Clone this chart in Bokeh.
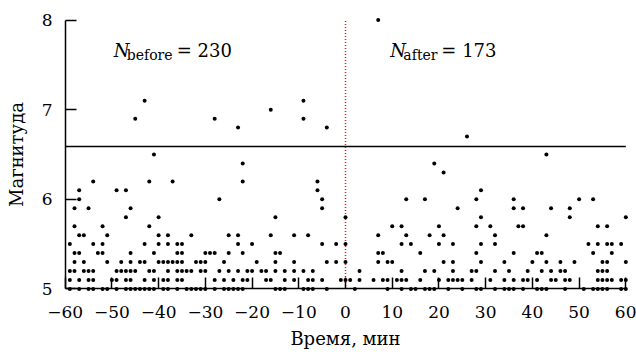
from bokeh.plotting import figure
from bokeh.models import Range1d, FixedTicker, Label, LinearAxis
from bokeh.embed import file_html
from bokeh.resources import INLINE

# ---- data: event times (minutes) for each magnitude row ----
t_50 = [-59, -57, -55, -54, -52, -51, -49, -47, -46, -45, -44, -43, -42, -41, -39, -38, -36, -34,
        -33, -32, -31, -30, -28, -26, -25, -24, -23, -22, -15, -14, -13, -9, -8, -7, -4,
        2, 9, 12, 14, 15, 17, 18, 19, 22, 25, 28, 29, 32, 34, 35, 36, 38, 41, 42, 43, 47,
        51, 53, 54, 55, 56, 59, 60]
t_51 = [-59, -57, -55, -54, -50, -49, -47, -46, -43, -41, -39, -38, -36, -35, -28, -26, -24,
        -22, -21, -17, -16, -13, -11, -8, -7, -5, -1, 0, 1, 3, 6, 8, 9, 11, 12, 13, 16,
        20, 22, 23, 24, 25, 27, 31, 34, 36, 38, 39, 41, 44, 45, 47, 48, 54, 55, 56, 57, 59, 60]
t_52 = [-59, -58, -56, -55, -54, -49, -48, -47, -46, -45, -42, -41, -38, -36, -35, -34, -33,
        -31, -30, -27, -25, -23, -21, -20, -18, -17, -15, -13, -11, -9, -7,
        3, 12, 17, 19, 23, 27, 28, 32, 35, 39, 42, 44, 46, 47, 54, 55, 56]
t_53 = [-58, -56, -51, -48, -46, -44, -43, -40, -39, -38, -37, -36, -35, -32, -31, -30, -26,
        -19, -15, -11, -4, -2, 0, 7, 9, 10, 21, 23, 29, 34, 40, 43, 46, 49, 55, 56, 60]
t_54 = [-58, -57, -53, -52, -46, -41, -36, -35, -30, -29, -28, -25, -22, -15, -14,
        7, 8, 16, 28, 36, 41, 42, 53, 57]
t_55 = [-59, -54, -52, -43, -40, -38, -36, -35, -23, -20, -5, -2, 0, 12, 14, 20, 23, 29, 32,
        52, 54, 56, 57, 59]
t_56 = [-57, -56, -51, -40, -38, -33, -25, -23, -16, -11, -8, 7, 13, 18, 21, 32, 43]
t_57 = [-58, -52, -42, 10, 12, 20, 28, 31, 37, 38, 54, 56]
t_58 = [-47, -40, -15, 0, 29, 48, 60]
t_59 = [-58, -55, -46, -5, 24, 36, 38, 44, 48]
t_60 = [-57, -27, -5, 13, 17, 28, 36, 50, 53]
t_61 = [-57, -49, -47, -6, 29]
t_62 = [-54, -42, -37, -22, -6]
t_63 = [21]
t_64 = [-22, 19]
t_65 = [-41, 43]
t_67 = [26]
t_68 = [-23, -4]
t_69 = [-45, -28, -9]
t_70 = [-16]
t_71 = [-43, -9]
t_80 = [7]

magnitudes = [5.0, 5.1, 5.2, 5.3, 5.4, 5.5, 5.6, 5.7, 5.8, 5.9, 6.0, 6.1, 6.2, 6.3, 6.4, 6.5,
              6.7, 6.8, 6.9, 7.0, 7.1, 8.0]
time_rows = [t_50, t_51, t_52, t_53, t_54, t_55, t_56, t_57, t_58, t_59, t_60, t_61, t_62,
             t_63, t_64, t_65, t_67, t_68, t_69, t_70, t_71, t_80]

threshold = 6.59
event_time = 0
x_ticks = [-60, -50, -40, -30, -20, -10, 0, 10, 20, 30, 40, 50, 60]
y_ticks = [5, 6, 7, 8]
n_before = 230
n_after = 173

xs, ys = [], []
for mag, row in zip(magnitudes, time_rows):
    xs.extend(row)
    ys.extend([mag] * len(row))

FONT = "DejaVu Serif"

p = figure(width=636, height=354, output_backend="svg", toolbar_location=None,
           x_range=Range1d(-61, 61), y_range=Range1d(4.96, 8.04),
           min_border_left=60, min_border_right=6, min_border_top=16, min_border_bottom=62,
           x_axis_label="Время, мин", y_axis_label="Магнитуда")
p.grid.visible = False
p.outline_line_color = None
p.background_fill_color = "white"
p.border_fill_color = "white"

# label-only axes at the frame edges
for ax in (p.xaxis[0], p.yaxis[0]):
    ax.axis_line_color = None
    ax.major_tick_line_color = None
    ax.minor_tick_line_color = None
    ax.major_tick_in = 0
    ax.major_tick_out = 0
    ax.minor_tick_in = 0
    ax.minor_tick_out = 0
    ax.major_label_text_font = FONT
    ax.major_label_text_font_size = "17px"
    ax.major_label_text_color = "black"
    ax.axis_label_text_font = FONT
    ax.axis_label_text_font_size = "18px"
    ax.axis_label_text_font_style = "normal"
    ax.axis_label_text_color = "black"

xa = p.xaxis[0]
xa.ticker = FixedTicker(ticks=x_ticks)
xa.major_label_overrides = {t: str(t).replace("-", "\u2212") for t in x_ticks}
xa.major_label_standoff = 13
xa.axis_label_standoff = 7

ya = p.yaxis[0]
ya.ticker = FixedTicker(ticks=y_ticks)
ya.major_label_standoff = 8
ya.axis_label_standoff = 12

# line-and-tick axes placed exactly at t = -60 and M = 5
def rule_axis(fixed, bounds, ticks):
    return LinearAxis(fixed_location=fixed, bounds=bounds, ticker=FixedTicker(ticks=ticks),
                      major_tick_in=11, major_tick_out=0, minor_tick_in=0, minor_tick_out=0,
                      axis_line_width=1.5, major_tick_line_width=1.5,
                      axis_line_color="black", major_tick_line_color="black",
                      major_label_text_font_size="0px", major_label_text_color=None,
                      major_label_standoff=0, axis_label=None)

p.add_layout(rule_axis(y_ticks[0], (x_ticks[0], x_ticks[-1]), x_ticks), "below")
p.add_layout(rule_axis(x_ticks[0], (y_ticks[0], y_ticks[-1]), y_ticks), "left")

p.segment(x0=[x_ticks[0]], y0=[threshold], x1=[x_ticks[-1]], y1=[threshold],
          line_color="black", line_width=1.5)
p.segment(x0=[event_time], y0=[y_ticks[0]], x1=[event_time], y1=[y_ticks[-1]],
          line_color="#e01818", line_width=1.5, line_dash="1 2")

p.scatter(xs, ys, size=4, fill_color="black", line_color=None)

def n_label(x, y, sub, count, eq_offset):
    common = dict(x=x, y=y, text_font=FONT, text_color="black", text_baseline="alphabetic")
    p.add_layout(Label(text="N", text_font_style="italic", text_font_size="18px", **common))
    p.add_layout(Label(text=sub, text_font_size="14px", x_offset=13, y_offset=-4, **common))
    p.add_layout(Label(text="= %d" % count, text_font_size="18px", x_offset=eq_offset, **common))

n_label(-49.6, 7.66, "before", n_before, 63)
n_label(9.6, 7.66, "after", n_after, 51)

open("out.html", "w").write(file_html(p, INLINE))
